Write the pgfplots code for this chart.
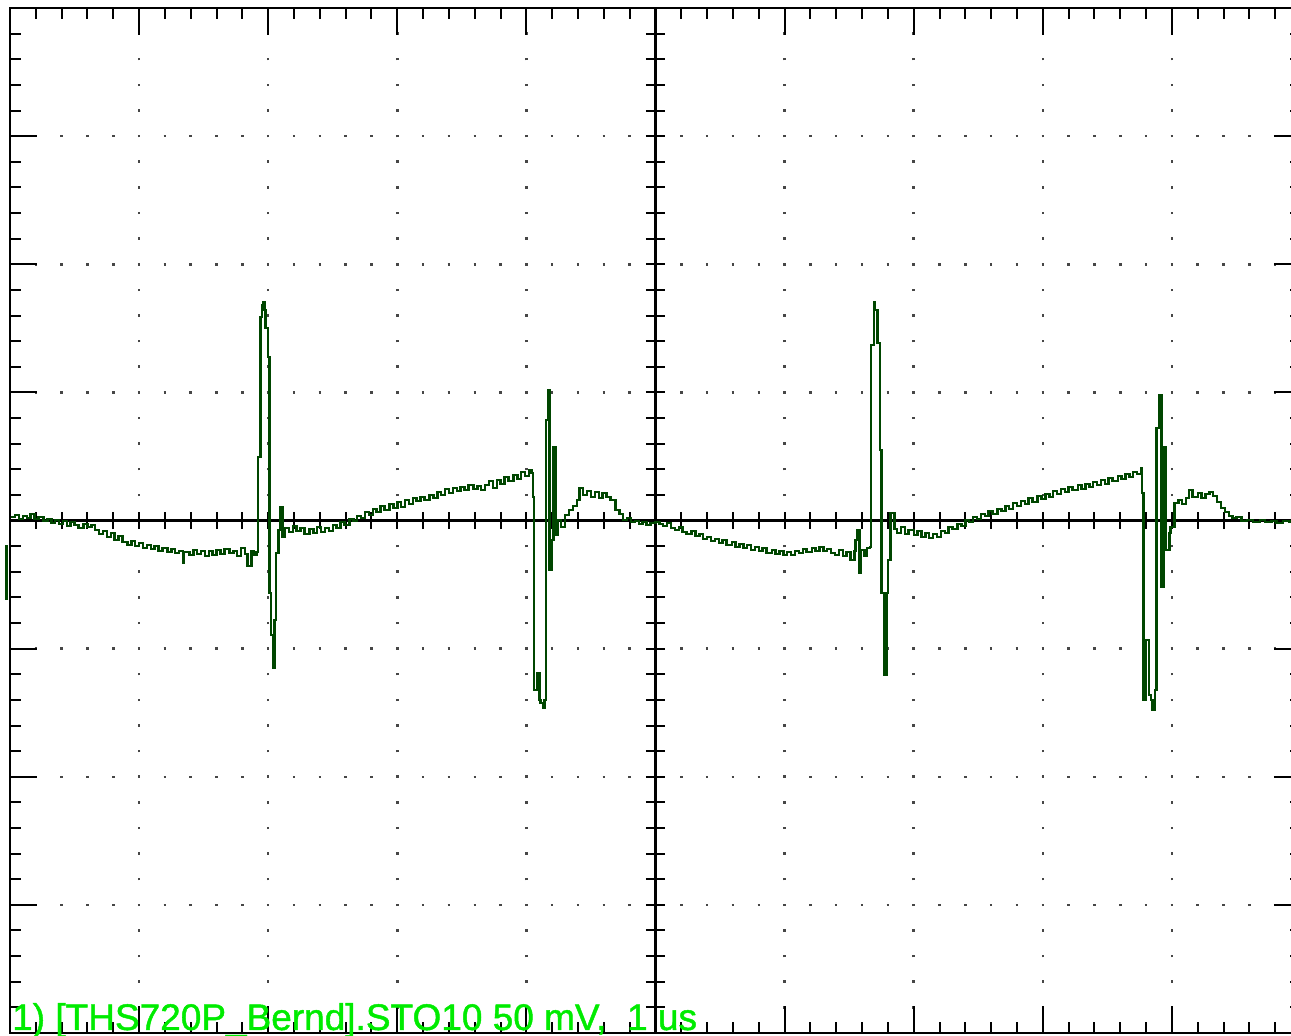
\documentclass[border=0pt]{standalone}
\usepackage{fontspec}
\setmainfont{Liberation Sans}
\newfontfamily\scopefont{Liberation Sans}[FakeBold=1.2]
\usepackage{pgfplots}
\pgfplotsset{compat=1.18}
\definecolor{trace}{RGB}{0,70,0}
\definecolor{labelgreen}{RGB}{0,235,0}
\definecolor{dotc}{RGB}{70,70,70}
\begin{document}
\begin{tikzpicture}
\begin{axis}[
  scale only axis, width=1291pt, height=1025pt,
  xmin=-5, xmax=5, ymin=-200, ymax=200,
  axis line style={black, line width=2.2pt},
  xtick={-4,...,4}, ytick={-150,-100,...,150},
  minor xtick={-4.8,-4.6,...,4.8}, minor ytick={-190,-180,...,190},
  xticklabels={}, yticklabels={},
  tick align=inside,
  major tick length=27pt, minor tick length=11pt,
  every tick/.style={black, line width=2pt},
  xmajorgrids, ymajorgrids,
  major x grid style={dotc, line width=2.5pt, dash pattern=on 2.5pt off 23.125pt, dash phase=1.25pt},
  major y grid style={dotc, line width=2.5pt, dash pattern=on 2.5pt off 23.32pt, dash phase=1.25pt},
  clip=false,
]
% centre cross-hair
\draw[black, line width=2.2pt] (axis cs:-5,0) -- (axis cs:5,0);
\draw[black, line width=2.2pt] (axis cs:0,-200) -- (axis cs:0,200);
\pgfplotsinvokeforeach{-4.8,-4.6,...,4.8}{\draw[black,line width=2pt] (axis cs:#1,-3.4) -- (axis cs:#1,3.4);}
\pgfplotsinvokeforeach{-190,-180,...,190}{\draw[black,line width=2pt] (axis cs:-0.075,#1) -- (axis cs:0.075,#1);}
% trace: time in us, voltage in mV
\addplot[const plot, no marks, trace, line width=2.4pt] coordinates {
(-4.99,1.37) (-4.96,2.15) (-4.93,0.59) (-4.90,1.76) (-4.87,0.98) (-4.84,2.54) (-4.81,0.59) (-4.78,1.37)
(-4.74,-0.20) (-4.71,0.59) (-4.68,-0.98) (-4.65,0.20) (-4.62,-1.37) (-4.59,-0.20) (-4.56,-2.15) (-4.53,-0.59)
(-4.50,-1.76) (-4.47,-2.93) (-4.43,-1.37) (-4.40,-2.54) (-4.37,-1.76) (-4.34,-3.71) (-4.31,-5.27) (-4.28,-4.10)
(-4.25,-6.44) (-4.22,-4.88) (-4.19,-7.61) (-4.16,-6.05) (-4.13,-8.39) (-4.09,-9.56) (-4.06,-8.00) (-4.03,-9.95)
(-4.00,-8.78) (-3.97,-10.73) (-3.94,-9.56) (-3.91,-11.12) (-3.88,-9.95) (-3.85,-11.90) (-3.82,-10.73) (-3.78,-12.29)
(-3.75,-11.12) (-3.72,-12.68) (-3.69,-11.90) (-3.66,-16.59) (-3.65,-12.29) (-3.61,-13.47) (-3.58,-11.51) (-3.55,-13.08)
(-3.52,-11.90) (-3.49,-13.86) (-3.46,-11.90) (-3.43,-13.47) (-3.40,-11.51) (-3.37,-13.08) (-3.34,-11.12) (-3.30,-12.68)
(-3.27,-11.90) (-3.24,-13.86) (-3.21,-10.73) (-3.18,-13.08) (-3.16,-17.76) (-3.13,-11.90) (-3.11,-13.47) (-3.09,-12.29)
(-3.08,24.78) (-3.06,79.43) (-3.05,84.11) (-3.04,85.28) (-3.03,82.16) (-3.02,75.13) (-3.00,63.81) (-2.99,-28.30)
(-2.98,-44.69) (-2.96,-57.57) (-2.95,-38.83) (-2.94,-12.68) (-2.92,-3.71) (-2.91,5.27) (-2.89,-6.44) (-2.87,-2.93)
(-2.84,-4.49) (-2.81,-2.15) (-2.78,-4.10) (-2.75,-2.93) (-2.72,-5.27) (-2.68,-3.32) (-2.65,-4.88) (-2.62,-2.54)
(-2.59,-4.49) (-2.56,-2.93) (-2.53,-4.10) (-2.50,-1.76) (-2.47,-2.93) (-2.44,-0.59) (-2.41,-1.76) (-2.37,0.59)
(-2.34,-0.20) (-2.31,1.76) (-2.28,0.98) (-2.25,3.32) (-2.22,2.15) (-2.19,4.49) (-2.16,3.32) (-2.13,5.66)
(-2.10,4.10) (-2.06,6.44) (-2.03,4.88) (-2.00,7.22) (-1.97,5.27) (-1.94,8.00) (-1.91,6.44) (-1.88,8.78)
(-1.85,7.61) (-1.82,9.17) (-1.79,8.00) (-1.75,9.95) (-1.72,8.78) (-1.69,11.12) (-1.66,9.95) (-1.63,12.29)
(-1.60,10.73) (-1.57,12.68) (-1.54,11.51) (-1.51,13.08) (-1.48,11.90) (-1.45,13.86) (-1.41,12.29) (-1.38,13.47)
(-1.35,11.90) (-1.32,13.86) (-1.29,15.42) (-1.26,12.68) (-1.23,15.81) (-1.20,14.25) (-1.17,16.98) (-1.14,15.42)
(-1.10,17.76) (-1.07,16.20) (-1.04,18.93) (-1.01,17.37) (-0.98,19.71) (-0.96,18.54) (-0.95,9.17) (-0.94,-66.16)
(-0.92,-59.52) (-0.90,-70.06) (-0.89,-71.23) (-0.87,-73.18) (-0.86,-70.06) (-0.85,39.23) (-0.83,50.93) (-0.82,-19.32)
(-0.80,-7.61) (-0.79,28.69) (-0.77,-5.66) (-0.76,0.20) (-0.73,-2.54) (-0.70,2.15) (-0.67,4.10) (-0.64,5.66)
(-0.61,8.00) (-0.59,12.68) (-0.56,9.95) (-0.53,11.51) (-0.50,9.17) (-0.47,11.12) (-0.44,8.78) (-0.41,10.73)
(-0.38,9.17) (-0.35,8.00) (-0.31,4.10) (-0.28,2.54) (-0.25,0.20) (-0.22,0.98) (-0.19,-0.59) (-0.16,-0.20)
(-0.13,-1.37) (-0.10,-0.59) (-0.07,-1.76) (-0.04,-0.98) (0.00,-0.59)
(0.03,-1.37) (0.06,-2.15) (0.09,-0.98) (0.12,-2.93) (0.15,-3.71) (0.18,-2.54) (0.21,-4.49) (0.24,-5.27)
(0.28,-4.10) (0.31,-6.05) (0.34,-5.27) (0.37,-7.22) (0.40,-6.44) (0.43,-8.00) (0.46,-7.22) (0.49,-8.78)
(0.52,-7.61) (0.55,-9.56) (0.59,-8.39) (0.62,-10.34) (0.65,-9.17) (0.68,-10.73) (0.71,-9.56) (0.74,-11.51)
(0.77,-10.34) (0.80,-11.90) (0.83,-10.73) (0.86,-12.68) (0.90,-11.51) (0.93,-13.08) (0.96,-11.90) (0.99,-13.47)
(1.02,-12.29) (1.05,-13.47) (1.08,-11.90) (1.11,-12.68) (1.14,-11.12) (1.17,-12.29) (1.21,-10.73) (1.24,-11.90)
(1.27,-10.34) (1.30,-11.90) (1.33,-11.12) (1.36,-12.68) (1.39,-13.47) (1.42,-11.51) (1.45,-13.86) (1.48,-12.29)
(1.51,-15.42) (1.54,-11.90) (1.55,-7.61) (1.56,-3.71) (1.58,-20.49) (1.59,-11.51) (1.62,-13.86) (1.64,-10.73)
(1.66,-10.34) (1.67,68.50) (1.69,85.28) (1.70,82.16) (1.72,69.28) (1.73,69.28) (1.74,27.52) (1.75,-28.30)
(1.77,-60.30) (1.79,-28.30) (1.80,-15.42) (1.82,2.93) (1.85,-3.32) (1.87,-4.88) (1.90,-2.54) (1.93,-5.27)
(1.96,-3.71) (2.00,-5.66) (2.03,-4.10) (2.06,-6.44) (2.09,-4.88) (2.12,-6.83) (2.15,-5.27) (2.18,-6.44)
(2.21,-4.10) (2.24,-4.88) (2.27,-2.54) (2.30,-3.32) (2.34,-1.37) (2.37,-2.15) (2.40,0.20) (2.43,-0.59)
(2.46,1.37) (2.49,0.59) (2.52,2.54) (2.55,1.76) (2.58,3.71) (2.61,2.54) (2.65,4.49) (2.68,3.71)
(2.71,5.66) (2.74,4.49) (2.77,6.83) (2.80,5.66) (2.83,7.61) (2.86,6.44) (2.89,8.78) (2.92,7.22)
(2.96,9.56) (2.99,8.39) (3.02,10.34) (3.05,9.17) (3.08,11.51) (3.11,10.34) (3.14,12.29) (3.17,11.12)
(3.20,13.08) (3.23,11.90) (3.27,13.86) (3.30,12.29) (3.33,14.25) (3.36,13.08) (3.39,15.03) (3.42,13.86)
(3.45,15.81) (3.48,14.25) (3.51,16.59) (3.54,15.42) (3.58,17.37) (3.61,16.20) (3.64,18.15) (3.67,16.98)
(3.70,18.93) (3.73,18.15) (3.76,20.49) (3.77,10.73) (3.78,-70.06) (3.80,-46.64) (3.82,-68.11) (3.84,-70.06)
(3.85,-73.96) (3.87,-66.16) (3.88,36.10) (3.90,48.98) (3.92,-25.95) (3.94,28.69) (3.95,-11.51) (3.98,-4.88)
(3.99,-2.54) (4.02,6.83) (4.05,8.00) (4.08,6.44) (4.11,8.78) (4.13,11.90) (4.16,9.17) (4.20,10.73)
(4.23,8.78) (4.26,10.34) (4.29,11.12) (4.32,9.56) (4.35,7.22) (4.38,4.88) (4.41,3.32) (4.44,1.76)
(4.47,0.98) (4.50,1.37) (4.54,-0.20) (4.58,0.20) (4.63,-0.59) (4.68,0.20) (4.72,-0.59) (4.77,-0.20)
(4.81,-0.98) (4.86,-0.20) (4.91,-0.59) (4.93,-0.59)
};
\node[anchor=base west, inner sep=0pt, text=labelgreen, font=\scopefont\fontsize{37}{40}\selectfont, xshift=2pt, yshift=3pt]
  at (axis cs:-5,-200) {1) [THS720P\_Bernd].STO10 50 mV,\ \ 1 us};
\end{axis}
% ground-level marker at the left edge
\draw[trace, line width=3.5pt] ([xshift=-3.5pt,yshift=433pt]current axis.south west) -- ([xshift=-3.5pt,yshift=488pt]current axis.south west);
\pgfresetboundingbox
\path[use as bounding box] (current axis.south west) ++(-10pt,-3pt) rectangle ++(1291pt,1036pt);
\end{tikzpicture}
\end{document}
